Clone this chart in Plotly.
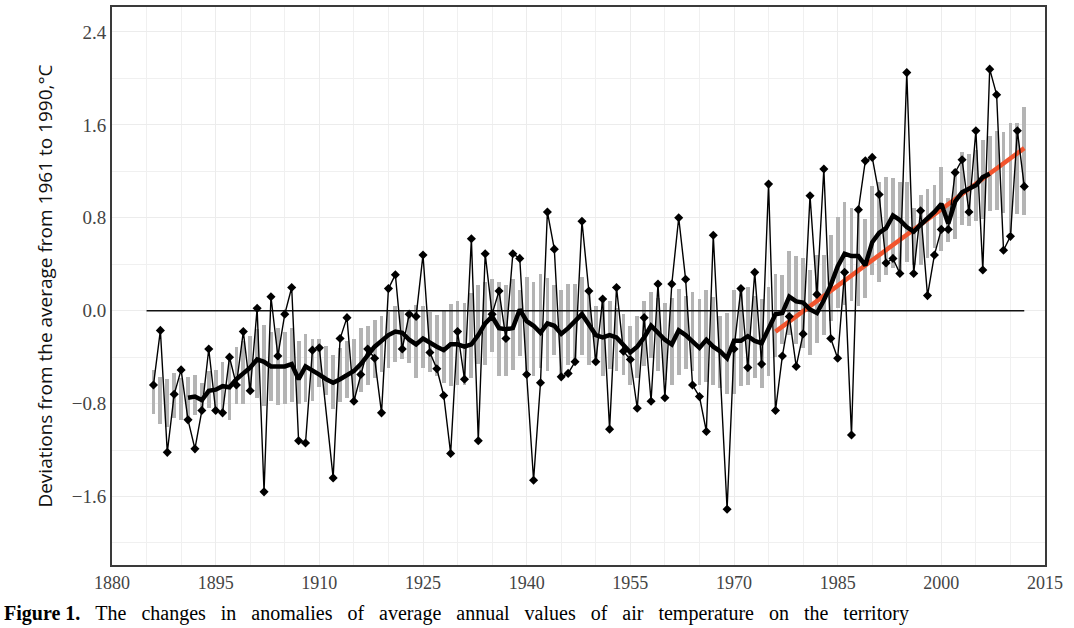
import plotly.graph_objects as go

years = list(range(1886, 2013))

anomaly = [
    -0.64, -0.17, -1.22, -0.72, -0.51, -0.94, -1.19, -0.86, -0.33, -0.86,   # 1886-1895
    -0.88, -0.40, -0.64, -0.18, -0.69, 0.02, -1.56, 0.12, -0.39, -0.03,     # 1896-1905
    0.20, -1.12, -1.14, -0.34, -0.32, None, -1.44, -0.24, -0.06, -0.78,     # 1906-1915
    -0.55, -0.33, -0.41, -0.88, 0.19, 0.31, -0.33, -0.03, -0.05, 0.48,      # 1916-1925
    -0.36, -0.50, -0.73, -1.23, -0.18, -0.59, 0.62, -1.12, 0.49, -0.03,     # 1926-1935
    0.17, -0.24, 0.49, 0.45, -0.55, -1.46, -0.62, 0.85, 0.53, -0.57,        # 1936-1945
    -0.54, -0.44, 0.77, 0.17, -0.44, 0.10, -1.02, 0.20, -0.35, -0.42,       # 1946-1955
    -0.84, -0.06, -0.78, 0.23, -0.75, 0.23, 0.80, 0.27, -0.64, -0.74,       # 1956-1965
    -1.04, 0.65, None, -1.71, -0.33, 0.19, -0.49, 0.33, -0.46, 1.09,        # 1966-1975
    -0.86, -0.39, -0.05, -0.48, -0.20, 0.99, 0.14, 1.22, -0.24, -0.41,      # 1976-1985
    0.33, -1.07, 0.87, 1.29, 1.32, 1.00, 0.41, 0.45, 0.32, 2.05,            # 1986-1995
    0.32, 0.86, 0.13, 0.48, 0.70, 0.70, 1.19, 1.30, 0.85, 1.55,             # 1996-2005
    0.35, 2.08, 1.86, 0.52, 0.64, 1.55, 1.07,                               # 2006-2012
]

band_low = [
    -0.89, -0.98, -1.00, -0.92, -0.94, -0.92, -0.90, -0.84, -0.84, -0.87,
    -0.89, -0.94, -0.80, -0.80, -0.69, -0.75, -0.82, -0.78, -0.81, -0.80,
    -0.79, -0.80, -0.79, -0.78, -0.66, -0.73, -0.85, -0.79, -0.75, -0.78,
    -0.70, -0.64, -0.58, -0.53, -0.49, -0.44, -0.42, -0.45, -0.58, -0.49,
    -0.53, -0.56, -0.62, -0.65, -0.64, -0.64, -0.58, -0.46, -0.47, -0.36,
    -0.56, -0.56, -0.51, -0.39, -0.52, -0.56, -0.49, -0.52, -0.38, -0.56,
    -0.47, -0.45, -0.38, -0.47, -0.44, -0.56, -0.50, -0.52, -0.55, -0.64,
    -0.58, -0.48, -0.41, -0.52, -0.60, -0.64, -0.55, -0.50, -0.52, -0.64,
    -0.61, -0.64, -0.67, -0.72, -0.72, -0.65, -0.64, -0.58, -0.67, -0.56,
    -0.40, -0.29, -0.21, -0.29, -0.32, -0.38, -0.28, -0.21, -0.09, 0.02,
    0.05, 0.08, 0.04, 0.11, 0.31, 0.25, 0.31, 0.37, 0.31, 0.42,
    0.39, 0.39, 0.45, 0.54, 0.51, 0.59, 0.62, 0.74, 0.73, 0.77,
    0.79, 0.86, 0.87, 0.84, 0.68, 0.83, 0.82,
]

band_high = [
    -0.51, -0.57, -0.59, -0.54, -0.58, -0.57, -0.55, -0.62, -0.52, -0.51,
    -0.44, -0.41, -0.31, -0.26, -0.22, -0.16, -0.12, -0.18, -0.15, -0.18,
    -0.15, -0.26, -0.20, -0.24, -0.24, -0.30, -0.38, -0.32, -0.26, -0.24,
    -0.15, -0.13, -0.08, -0.05, -0.01, 0.04, 0.01, -0.02, 0.05, 0.04,
    -0.01, -0.04, 0.00, 0.06, 0.08, 0.07, 0.15, 0.22, 0.25, 0.27,
    0.25, 0.22, 0.27, 0.18, 0.29, 0.25, 0.32, 0.28, 0.22, 0.18,
    0.23, 0.23, 0.29, 0.16, 0.04, 0.08, 0.08, 0.02, -0.03, -0.13,
    -0.05, 0.08, 0.16, 0.11, 0.07, 0.11, 0.19, 0.13, 0.16, 0.10,
    0.18, 0.12, -0.05, -0.02, 0.18, 0.19, 0.20, 0.13, 0.10, 0.20,
    0.32, 0.31, 0.51, 0.47, 0.45, 0.35, 0.48, 0.48, 0.65, 0.81,
    0.94, 0.88, 0.84, 0.79, 1.07, 1.11, 1.15, 1.14, 1.11, 1.11,
    0.88, 1.00, 1.05, 1.08, 1.24, 0.97, 1.22, 1.37, 1.35, 1.38,
    1.47, 1.50, 1.55, 1.54, 1.62, 1.62, 1.75,
]

smooth_years = list(range(1891, 2008))
smooth = [
    -0.75, -0.74, -0.77, -0.69, -0.68, -0.65, -0.66, -0.59, -0.54, -0.49,   # 1891-1900
    -0.42, -0.44, -0.48, -0.48, -0.48, -0.46, -0.59, -0.48, -0.51, -0.55,   # 1901-1910
    -0.59, -0.62, -0.59, -0.55, -0.52, -0.46, -0.39, -0.31, -0.26, -0.21,   # 1911-1920
    -0.18, -0.19, -0.25, -0.29, -0.24, -0.28, -0.31, -0.34, -0.29, -0.29,   # 1921-1930
    -0.31, -0.29, -0.21, -0.11, -0.05, -0.15, -0.16, -0.15, 0.01, -0.09,    # 1931-1940
    -0.13, -0.19, -0.11, -0.13, -0.20, -0.15, -0.09, -0.03, -0.12, -0.21,   # 1941-1950
    -0.23, -0.21, -0.23, -0.29, -0.36, -0.31, -0.23, -0.13, -0.19, -0.25,   # 1951-1960
    -0.29, -0.17, -0.21, -0.26, -0.32, -0.25, -0.31, -0.35, -0.41, -0.26,   # 1961-1970
    -0.26, -0.22, -0.26, -0.28, -0.16, -0.03, -0.02, 0.12, 0.08, 0.07,      # 1971-1980
    0.01, -0.02, 0.09, 0.22, 0.38, 0.49, 0.47, 0.47, 0.39, 0.59,            # 1981-1990
    0.67, 0.71, 0.82, 0.78, 0.72, 0.68, 0.74, 0.79, 0.85, 0.92,             # 1991-2000
    0.75, 0.94, 1.02, 1.05, 1.08, 1.15, 1.18,                               # 2001-2007
]

trend_years = [1976, 2012]
trend_values = [-0.18, 1.40]

zero_years = [1885, 2012]
zero_values = [0.0, 0.0]

x_ticks = [1880, 1895, 1910, 1925, 1940, 1955, 1970, 1985, 2000, 2015]
y_ticks = [-1.6, -0.8, 0.0, 0.8, 1.6, 2.4]
y_tick_text = ["\u22121.6", "\u22120.8", "0.0", "0.8", "1.6", "2.4"]

caption_words = ["The", "changes", "in", "anomalies", "of", "average", "annual",
                 "values", "of", "air", "temperature", "on", "the", "territory"]
gap = "&nbsp;" * 3
caption = "<b>Figure&nbsp;1.</b>" + gap + gap.join(caption_words)

fig = go.Figure()

fig.add_trace(go.Bar(
    x=years,
    y=[h - l for h, l in zip(band_high, band_low)],
    base=band_low,
    width=0.55,
    marker=dict(color="#b4b4b4", line=dict(width=0)),
    showlegend=False,
))

fig.add_trace(go.Scatter(
    x=zero_years, y=zero_values, mode="lines",
    line=dict(color="#111111", width=1.6), showlegend=False,
))

fig.add_trace(go.Scatter(
    x=trend_years, y=trend_values, mode="lines",
    line=dict(color="#f2542d", width=4.5), showlegend=False,
))

fig.add_trace(go.Scatter(
    x=years, y=anomaly, mode="lines+markers", connectgaps=True,
    line=dict(color="#000000", width=1.4),
    marker=dict(symbol="diamond", size=7, color="#000000"),
    showlegend=False,
))

fig.add_trace(go.Scatter(
    x=smooth_years, y=smooth, mode="lines",
    line=dict(color="#000000", width=4.5), showlegend=False,
))

fig.add_annotation(
    xref="paper", yref="paper", x=-0.118, y=-0.062,
    xanchor="left", yanchor="top", showarrow=False,
    text=caption,
    font=dict(family="Liberation Serif", size=20, color="#000000"),
)

fig.update_layout(
    width=1074, height=628,
    margin=dict(l=112, r=29, t=5, b=63),
    paper_bgcolor="white", plot_bgcolor="white",
    bargap=0,
    xaxis=dict(
        range=[1880, 2015],
        tickvals=x_ticks,
        ticktext=[str(v) for v in x_ticks],
        showgrid=True, gridcolor="#ececec", gridwidth=1,
        minor=dict(dtick=5, tick0=1880, showgrid=True, gridcolor="#f0f0f0", gridwidth=1),
        showline=True, mirror=True, linecolor="#3a3a3a", linewidth=2,
        ticks="", zeroline=False,
        tickfont=dict(family="Liberation Serif", size=18, color="#444444"),
    ),
    yaxis=dict(
        range=[-2.19, 2.615],
        tickvals=y_ticks,
        ticktext=y_tick_text,
        showgrid=True, gridcolor="#ececec", gridwidth=1,
        minor=dict(dtick=0.4, tick0=0, showgrid=True, gridcolor="#f0f0f0", gridwidth=1),
        showline=True, mirror=True, linecolor="#3a3a3a", linewidth=2,
        ticks="", zeroline=False,
        tickfont=dict(family="Liberation Serif", size=19, color="#444444"),
        title=dict(
            text="Deviations from the average from 1961 to 1990,\u00b0C",
            font=dict(family="Open Sans", size=19, color="#111111"),
            standoff=14,
        ),
    ),
)

fig.write_html("out.html", config={"displayModeBar": False},
               post_script="document.body.style.margin='0';")
